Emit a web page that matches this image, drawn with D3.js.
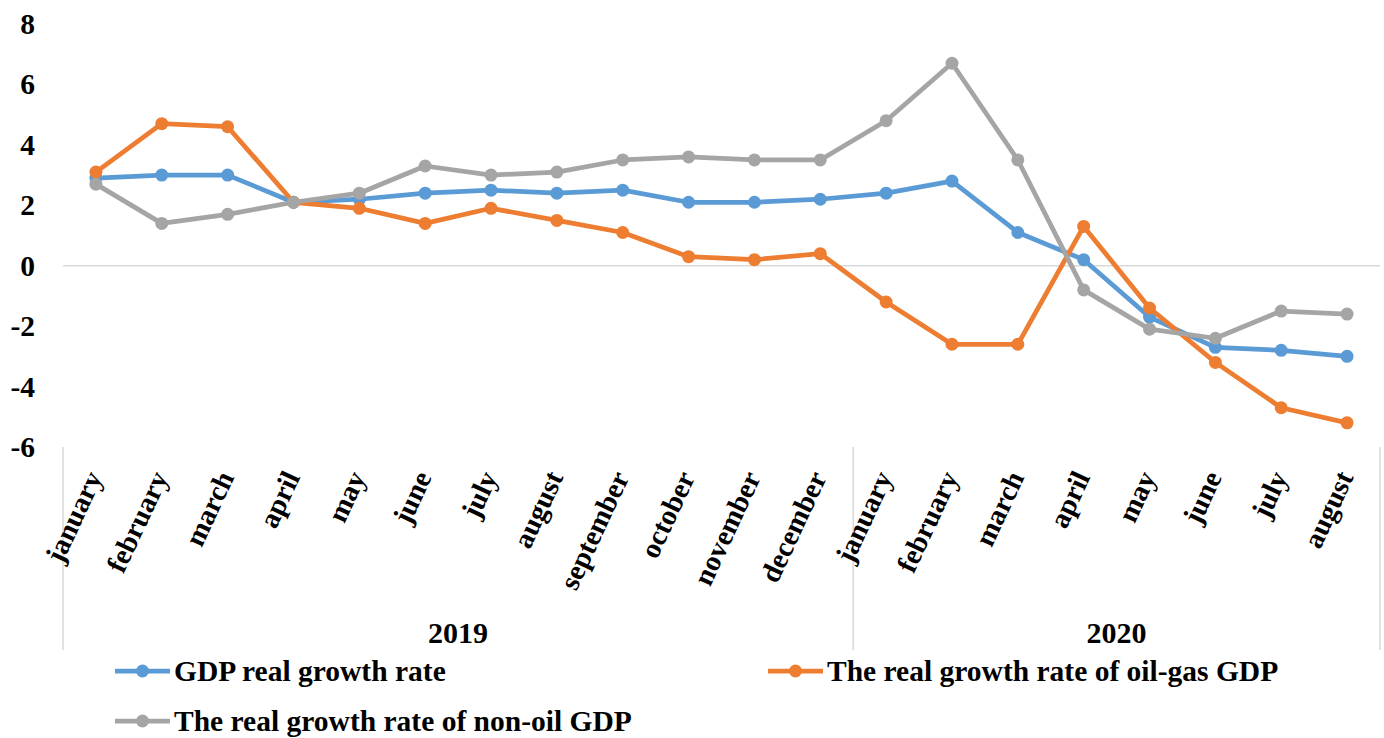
<!DOCTYPE html>
<html>
<head>
<meta charset="utf-8">
<script src="https://cdn.jsdelivr.net/npm/d3@7"></script>
<style>
  html, body { margin: 0; padding: 0; background: #fff; }
  svg { display: block; }
  text { font-family: "Liberation Serif", "Times New Roman", serif; font-weight: bold; fill: #000; }
</style>
</head>
<body>
<svg id="chart" width="1384" height="738"></svg>
<script>
const months = ["january","february","march","april","may","june","july","august","september","october","november","december",
                "january","february","march","april","may","june","july","august"];
const years = ["2019", "2020"];
const yearCounts = [12, 8];
const yTicks = [-6, -4, -2, 0, 2, 4, 6, 8];

const gdp    = [2.9, 3.0, 3.0, 2.1, 2.2, 2.4, 2.5, 2.4, 2.5, 2.1, 2.1, 2.2, 2.4, 2.8, 1.1, 0.2, -1.7, -2.7, -2.8, -3.0];
const oilGas = [3.1, 4.7, 4.6, 2.1, 1.9, 1.4, 1.9, 1.5, 1.1, 0.3, 0.2, 0.4, -1.2, -2.6, -2.6, 1.3, -1.4, -3.2, -4.7, -5.2];
const nonOil = [2.7, 1.4, 1.7, 2.1, 2.4, 3.3, 3.0, 3.1, 3.5, 3.6, 3.5, 3.5, 4.8, 6.7, 3.5, -0.8, -2.1, -2.4, -1.5, -1.6];

const seriesNames = ["GDP real growth rate", "The real growth rate of oil-gas GDP", "The real growth rate of non-oil GDP"];
const seriesColors = ["#5B9BD5", "#ED7D31", "#A5A5A5"];
const seriesData = [gdp, oilGas, nonOil];

const svg = d3.select("#chart");
const plotLeft = 63, plotRight = 1380, plotTop = 24, plotBottom = 447;

const x = d3.scalePoint().domain(d3.range(months.length)).range([plotLeft, plotRight]).padding(0.5);
const y = d3.scaleLinear().domain([-6, 8]).range([plotBottom, plotTop]);

// y tick labels
svg.append("g").selectAll("text").data(yTicks).join("text")
  .attr("x", 35).attr("y", d => y(d))
  .attr("text-anchor", "end").attr("dominant-baseline", "central")
  .style("font-size", "29.5px")
  .text(d => d);

// zero line (category axis)
svg.append("line")
  .attr("x1", plotLeft).attr("x2", plotRight).attr("y1", y(0)).attr("y2", y(0))
  .attr("stroke", "#d9d9d9").attr("stroke-width", 1.5);

// group separators
const step = x.step();
const bounds = [0];
yearCounts.forEach(c => bounds.push(bounds[bounds.length - 1] + c));
svg.append("g").selectAll("line").data(bounds).join("line")
  .attr("x1", d => plotLeft + d * step).attr("x2", d => plotLeft + d * step)
  .attr("y1", plotBottom).attr("y2", 650)
  .attr("stroke", "#d9d9d9").attr("stroke-width", 1.5);

// month labels
svg.append("g").selectAll("text").data(months).join("text")
  .attr("transform", (d, i) => `translate(${x(i) + 7},477) rotate(-65)`)
  .attr("text-anchor", "end")
  .style("font-size", "28.5px")
  .text(d => d);

// year labels
svg.append("g").selectAll("text").data(years).join("text")
  .attr("x", (d, i) => plotLeft + (bounds[i] + bounds[i + 1]) / 2 * step)
  .attr("y", 643)
  .attr("text-anchor", "middle")
  .style("font-size", "30px")
  .text(d => d);

// lines
const line = d3.line().x((d, i) => x(i)).y(d => y(d));
seriesData.forEach((data, k) => {
  const g = svg.append("g");
  g.append("path").datum(data)
    .attr("d", line).attr("fill", "none")
    .attr("stroke", seriesColors[k]).attr("stroke-width", 4.75)
    .attr("stroke-linejoin", "round");
  g.selectAll("circle").data(data).join("circle")
    .attr("cx", (d, i) => x(i)).attr("cy", d => y(d)).attr("r", 6.5)
    .attr("fill", seriesColors[k]);
});

// legend
const legendPos = [[115, 671], [768, 671], [115, 721]];
seriesNames.forEach((name, k) => {
  const [lx, ly] = legendPos[k];
  const g = svg.append("g");
  g.append("line").attr("x1", lx).attr("x2", lx + 55).attr("y1", ly).attr("y2", ly)
    .attr("stroke", seriesColors[k]).attr("stroke-width", 4.75);
  g.append("circle").attr("cx", lx + 27.5).attr("cy", ly).attr("r", 6.5).attr("fill", seriesColors[k]);
  g.append("text").attr("x", lx + 59).attr("y", ly + 10)
    .style("font-size", "29.5px")
    .text(name);
});
</script>
</body>
</html>
